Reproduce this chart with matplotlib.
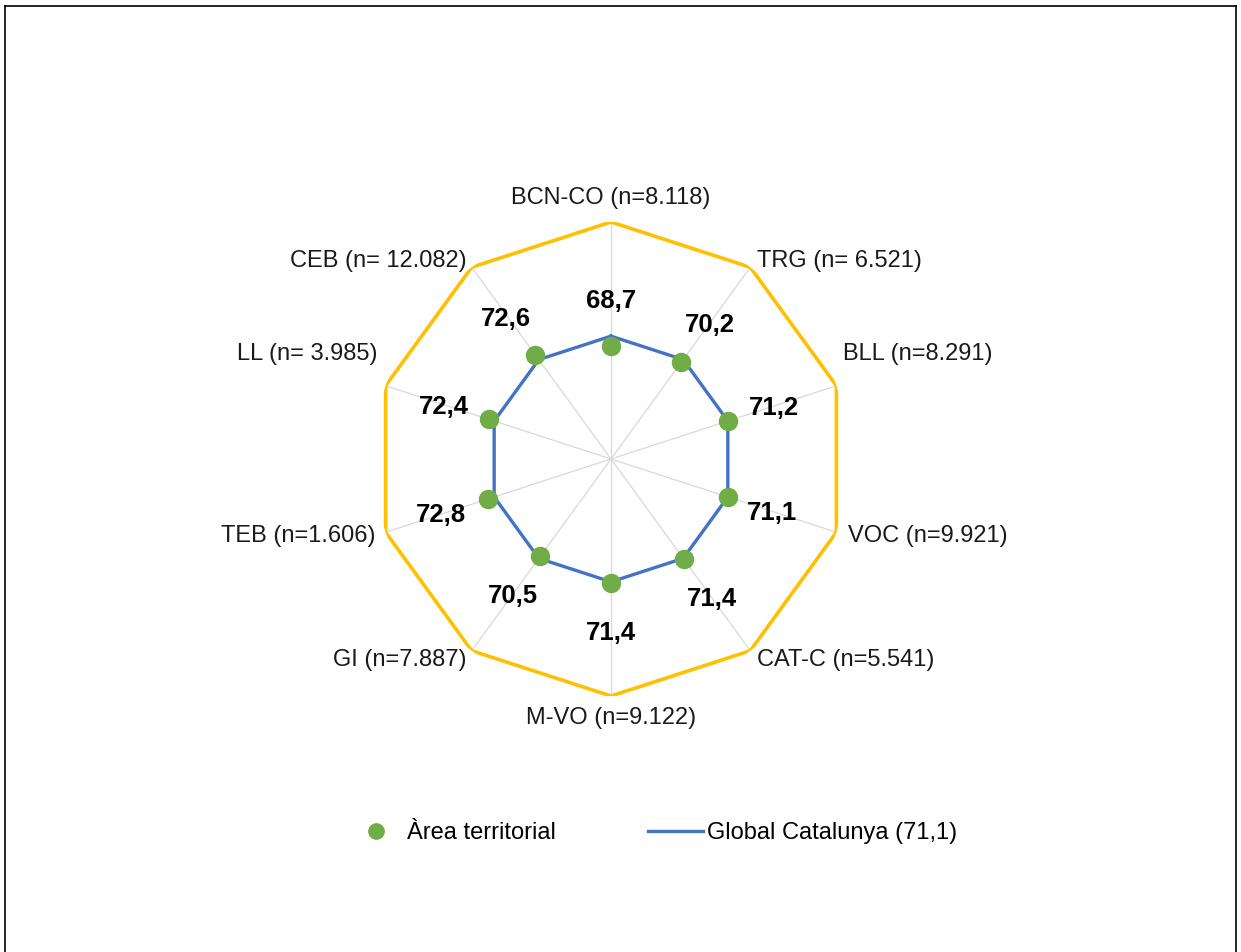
import numpy as np
import matplotlib
matplotlib.use("Agg")
import matplotlib.pyplot as plt
from matplotlib.lines import Line2D

plt.rcParams["font.family"] = ["Liberation Sans", "DejaVu Sans"]

# data
categories = ["BCN-CO (n=8.118)", "TRG (n= 6.521)", "BLL (n=8.291)", "VOC (n=9.921)",
              "CAT-C (n=5.541)", "M-VO (n=9.122)", "GI (n=7.887)", "TEB (n=1.606)",
              "LL (n= 3.985)", "CEB (n= 12.082)"]
area_values = [68.7, 70.2, 71.2, 71.1, 71.4, 71.4, 70.5, 72.8, 72.4, 72.6]
global_value = 71.1
r_min, r_max = 40, 100

# label placement (pixel offsets) -- style only
cat_offsets = [(0, 24, "center"), (7, 6, "left"), (7, 32, "left"), (12, -4, "left"),
               (7, -9, "left"), (0, -22, "center"), (-5, -9, "right"), (-10, -4, "right"),
               (-8, 32, "right"), (-5, 6, "right")]
val_offsets = [(0, 45), (29, 37), (46, 13), (44, -16), (28, -40),
               (0, -50), (-27, -40), (-47, -16), (-45, 12), (-29, 36)]

GREEN = "#70AD47"
BLUE = "#4472C4"
GOLD = "#FFC000"
GRID = "#D9D9D9"

W, H = 1241, 952
fig = plt.figure(figsize=(W / 100, H / 100), dpi=100)
R = 237
cx, cy = 611, 459
ax = fig.add_axes([(cx - R) / W, (H - cy - R) / H, 2 * R / W, 2 * R / H], projection="polar")
ax.set_theta_zero_location("N")
ax.set_theta_direction(-1)
ax.set_ylim(r_min, r_max)

n = len(categories)
theta = np.linspace(0, 2 * np.pi, n, endpoint=False)
closed = np.append(theta, theta[0])

ax.set_xticks(theta)
ax.set_xticklabels([])
ax.set_yticks([])
ax.xaxis.grid(True, color=GRID, linewidth=0.9)
ax.yaxis.grid(False)
ax.spines["polar"].set_visible(False)
ax.set_facecolor("none")

# outer frame at axis max
ax.plot(closed, [r_max] * (n + 1), color=GOLD, linewidth=2.6, zorder=2)
# global line
gl, = ax.plot(closed, [global_value] * (n + 1), color=BLUE, linewidth=2.4, zorder=3,
              label="Global Catalunya (71,1)")
ax.plot(theta, area_values, linestyle="none", marker="o", markersize=13, color=GREEN,
        zorder=4, clip_on=False)

for t, cat, (dx, dy, ha) in zip(theta, categories, cat_offsets):
    ax.annotate(cat, xy=(t, r_max), xytext=(dx * 0.72, dy * 0.72), textcoords="offset points",
                ha=ha, va="center", fontsize=17, color="#1a1a1a", annotation_clip=False)

for t, v, (dx, dy) in zip(theta, area_values, val_offsets):
    ax.annotate(f"{v:.1f}".replace(".", ","), xy=(t, v), xytext=(dx * 0.72, dy * 0.72),
                textcoords="offset points", ha="center", va="center", fontsize=18.5,
                fontweight="bold", color="black", annotation_clip=False)

handles = [Line2D([], [], linestyle="none", marker="o", markersize=11, color=GREEN),
           Line2D([], [], color=BLUE, linewidth=2.4)]
fig.legend(handles, ["Àrea territorial", "Global Catalunya (71,1)"], loc="center",
           bbox_to_anchor=(653 / W, 1 - 833 / H), ncol=2, frameon=False, fontsize=17,
           handlelength=2.33, handletextpad=0.15, columnspacing=3.9)

# chart frame
for xs, ys in [((5, 5), (6, H)), ((5, 1236), (6, 6)), ((1236, 1236), (6, H))]:
    fig.add_artist(Line2D([x / W for x in xs], [1 - y / H for y in ys], color="black",
                          linewidth=1.2))

fig.savefig("out.png", dpi=100, facecolor="white")
